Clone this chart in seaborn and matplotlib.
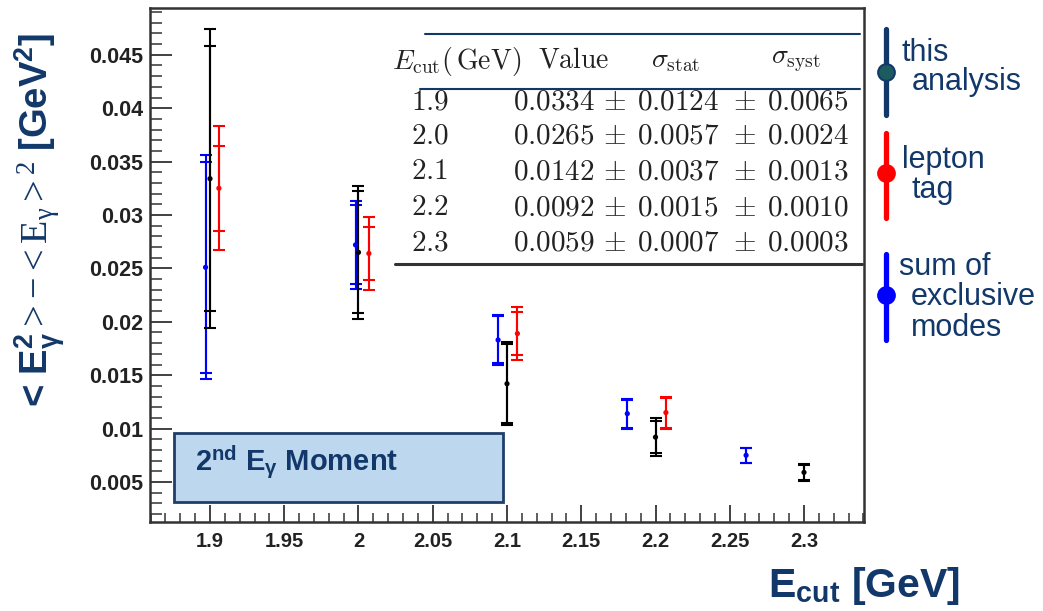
import matplotlib
matplotlib.use("Agg")
import matplotlib.pyplot as plt
import seaborn as sns
import numpy as np
import pandas as pd
from matplotlib.patches import Rectangle
from matplotlib.lines import Line2D
from matplotlib.ticker import MultipleLocator, FuncFormatter

# ---------------- data ----------------
ecut_this = [1.9, 2.0, 2.1, 2.2, 2.3]
val_this = [0.0334, 0.0265, 0.0142, 0.0092, 0.0059]
stat_this = [0.0124, 0.0057, 0.0037, 0.0015, 0.0007]
syst_this = [0.0065, 0.0024, 0.0013, 0.0010, 0.0003]
tot_this = [0.0140, 0.0062, 0.0039, 0.0018, 0.0008]

ecut_lep = [1.906, 2.007, 2.107, 2.207]
val_lep = [0.0325, 0.0264, 0.0189, 0.0115]
in_lep = [0.0040, 0.0025, 0.0020, 0.0014]
out_lep = [0.0058, 0.0034, 0.0025, 0.0015]

ecut_exc = [1.897, 1.998, 2.094, 2.181, 2.261]
val_exc = [0.0251, 0.0272, 0.0183, 0.0114, 0.0075]
in_exc = [0.0099, 0.0037, 0.0022, 0.0013, 0.0007]
out_exc = [0.0105, 0.0041, 0.0023, 0.0014, 0.0007]

table_ecut = ["1.9", "2.0", "2.1", "2.2", "2.3"]
table_val = ["0.0334", "0.0265", "0.0142", "0.0092", "0.0059"]
table_stat = ["0.0124", "0.0057", "0.0037", "0.0015", "0.0007"]
table_syst = ["0.0065", "0.0024", "0.0013", "0.0010", "0.0003"]

legend_labels = [["this", "analysis"], ["lepton", "tag"], ["sum of", "exclusive", "modes"]]

NAVY = "#12386a"
BLACK = "#000000"
RED = "#ff0000"
BLUE = "#0000ff"

sns.set_theme(style="white")
plt.rcParams["font.family"] = ["Liberation Sans", "DejaVu Sans"]
plt.rcParams["mathtext.fontset"] = "custom"
plt.rcParams["mathtext.rm"] = "Liberation Serif"
plt.rcParams["mathtext.it"] = "Liberation Serif:italic"
plt.rcParams["mathtext.bf"] = "Liberation Sans:bold"
plt.rcParams["mathtext.sf"] = "Liberation Sans"

W, H = 1043, 611
fig = plt.figure(figsize=(W / 100, H / 100), dpi=100)
fig.patch.set_facecolor("white")
ax = fig.add_axes([150 / W, 1 - 522 / H, (864 - 150) / W, (522 - 8) / H])


def fx(x):
    return x / W


def fy(y):
    return 1 - y / H


# ---------------- error bars ----------------
series = [
    (ecut_exc, val_exc, in_exc, out_exc, BLUE),
    (ecut_this, val_this, stat_this, tot_this, BLACK),
    (ecut_lep, val_lep, in_lep, out_lep, RED),
]
for xs, ys, e_in, e_out, c in series:
    for err in (e_out, e_in):
        ax.errorbar(xs, ys, yerr=err, fmt="none", ecolor=c, elinewidth=1.5,
                    capsize=4.6, capthick=1.5, zorder=3)

frames = []
for name, xs, ys in [("exc", ecut_exc, val_exc), ("this", ecut_this, val_this), ("lep", ecut_lep, val_lep)]:
    frames.append(pd.DataFrame({"ecut": xs, "val": ys, "src": name}))
df = pd.concat(frames, ignore_index=True)
sns.scatterplot(data=df, x="ecut", y="val", hue="src",
                palette={"exc": BLUE, "this": BLACK, "lep": RED},
                s=14, linewidth=0, legend=False, ax=ax, zorder=4)

# ---------------- axes ----------------
ax.set_xlim(1.8596, 2.3404)
ax.set_ylim(0.001255, 0.04938)
ax.set_xlabel("")
ax.set_ylabel("")
ax.xaxis.set_major_locator(MultipleLocator(0.05))
ax.xaxis.set_minor_locator(MultipleLocator(0.01))
ax.yaxis.set_major_locator(MultipleLocator(0.005))
ax.yaxis.set_minor_locator(MultipleLocator(0.001))
fmt = FuncFormatter(lambda v, p: f"{round(v, 4):g}")
ax.xaxis.set_major_formatter(fmt)
ax.yaxis.set_major_formatter(fmt)
ax.tick_params(axis="y", which="major", direction="in", length=16, width=1.3,
               labelsize=15.5, pad=5, colors="#333333", left=True)
ax.tick_params(axis="y", which="minor", direction="in", length=8.5, width=1.1,
               colors="#333333", left=True)
ax.tick_params(axis="x", which="major", direction="in", length=12, width=1.3,
               labelsize=14.5, pad=7, colors="#333333", bottom=True)
ax.tick_params(axis="x", which="minor", direction="in", length=6.5, width=1.1,
               colors="#333333", bottom=True)
for lab in ax.get_xticklabels() + ax.get_yticklabels():
    lab.set_fontweight("bold")
    lab.set_color("#222222")
for sp in ax.spines.values():
    sp.set_color("#333333")
    sp.set_linewidth(1.8)
ax.grid(False)

# ---------------- inset box ----------------
ax.add_patch(Rectangle((1.8758, 0.00316), 0.2215, 0.00646, facecolor="#bdd7ee",
                       edgecolor="#1f3f6a", linewidth=2, zorder=5))
ax.text(1.8899, 0.00687, r"2$^{\mathbf{nd}}$ E$_{\mathbf{\gamma}}$ Moment",
        fontsize=21, fontweight="bold", color=NAVY, va="center", ha="left", zorder=6)

# ---------------- table ----------------
tr = fig.transFigure
fig.add_artist(Line2D([fx(425), fx(860)], [fy(34), fy(34)], color=NAVY, lw=1.5, transform=tr))
fig.add_artist(Line2D([fx(420), fx(860)], [fy(89), fy(89)], color=NAVY, lw=1.5, transform=tr))
fig.add_artist(Line2D([fx(395), fx(862)], [fy(264), fy(264)], color="#333333", lw=2.2, transform=tr))
hdr_y = fy(61)
tkw = dict(color="#222222", va="center", math_fontfamily="cm", transform=tr)
fig.text(fx(457), hdr_y, r"$E_{\rm cut}(\,\mathrm{GeV})$", ha="center", fontsize=20, **tkw)
fig.text(fx(574), hdr_y, r"$\mathrm{Value}$", ha="center", fontsize=20, **tkw)
fig.text(fx(676), hdr_y, r"$\sigma_{\rm stat}$", ha="center", fontsize=20, **tkw)
fig.text(fx(796), hdr_y, r"$\sigma_{\rm syst}$", ha="center", fontsize=20, **tkw)
row_y = [101, 136, 171, 207, 242]
for i in range(len(table_ecut)):
    yy = fy(row_y[i])
    fig.text(fx(430), yy, "$" + table_ecut[i] + "$", ha="center", fontsize=21, **tkw)
    fig.text(fx(513), yy, "$" + table_val[i] + "$", ha="left", fontsize=21, **tkw)
    fig.text(fx(603), yy, r"$\pm\;\,$" + "$" + table_stat[i] + "$", ha="left", fontsize=21, **tkw)
    fig.text(fx(733), yy, r"$\pm\;\,$" + "$" + table_syst[i] + "$", ha="left", fontsize=21, **tkw)

# ---------------- side legend ----------------
leg_lines = [(29, 115, 72, NAVY, "#1d5c5e"), (133, 218, 173, RED, RED), (254, 340, 295, BLUE, BLUE)]
text_pos = [[(901, 53), (912, 82)], [(902, 160), (912, 190)], [(899, 267), (911, 297), (911, 328)]]
for (y0, y1, ym, lc, mc), labs, poss in zip(leg_lines, legend_labels, text_pos):
    fig.add_artist(Line2D([fx(886), fx(886)], [fy(y0), fy(y1)], color=lc, lw=3.8, transform=tr))
    fig.add_artist(Line2D([fx(886)], [fy(ym)], marker="o", markersize=12, color=mc,
                          markeredgecolor=lc, markeredgewidth=1.5, transform=tr))
    for t, (px, py) in zip(labs, poss):
        fig.text(fx(px), fy(py), t, fontsize=22, color=NAVY, ha="left", va="center")

# ---------------- axis titles ----------------
fig.text(fx(40), fy(222),
         r"$\mathbf{<\,E^{2}_{\gamma}}\mathrm{>\!-\!<E_{\gamma}>^{2}}\ \mathbf{[GeV^{2}]}$",
         rotation=90, fontsize=27.5, color=NAVY, ha="center", va="center")
fig.text(fx(768), fy(586), r"E$_{\mathbf{cut}}$ [GeV]", fontsize=29.5, fontweight="bold",
         color=NAVY, ha="left", va="center")

fig.savefig("out.png", dpi=100)
